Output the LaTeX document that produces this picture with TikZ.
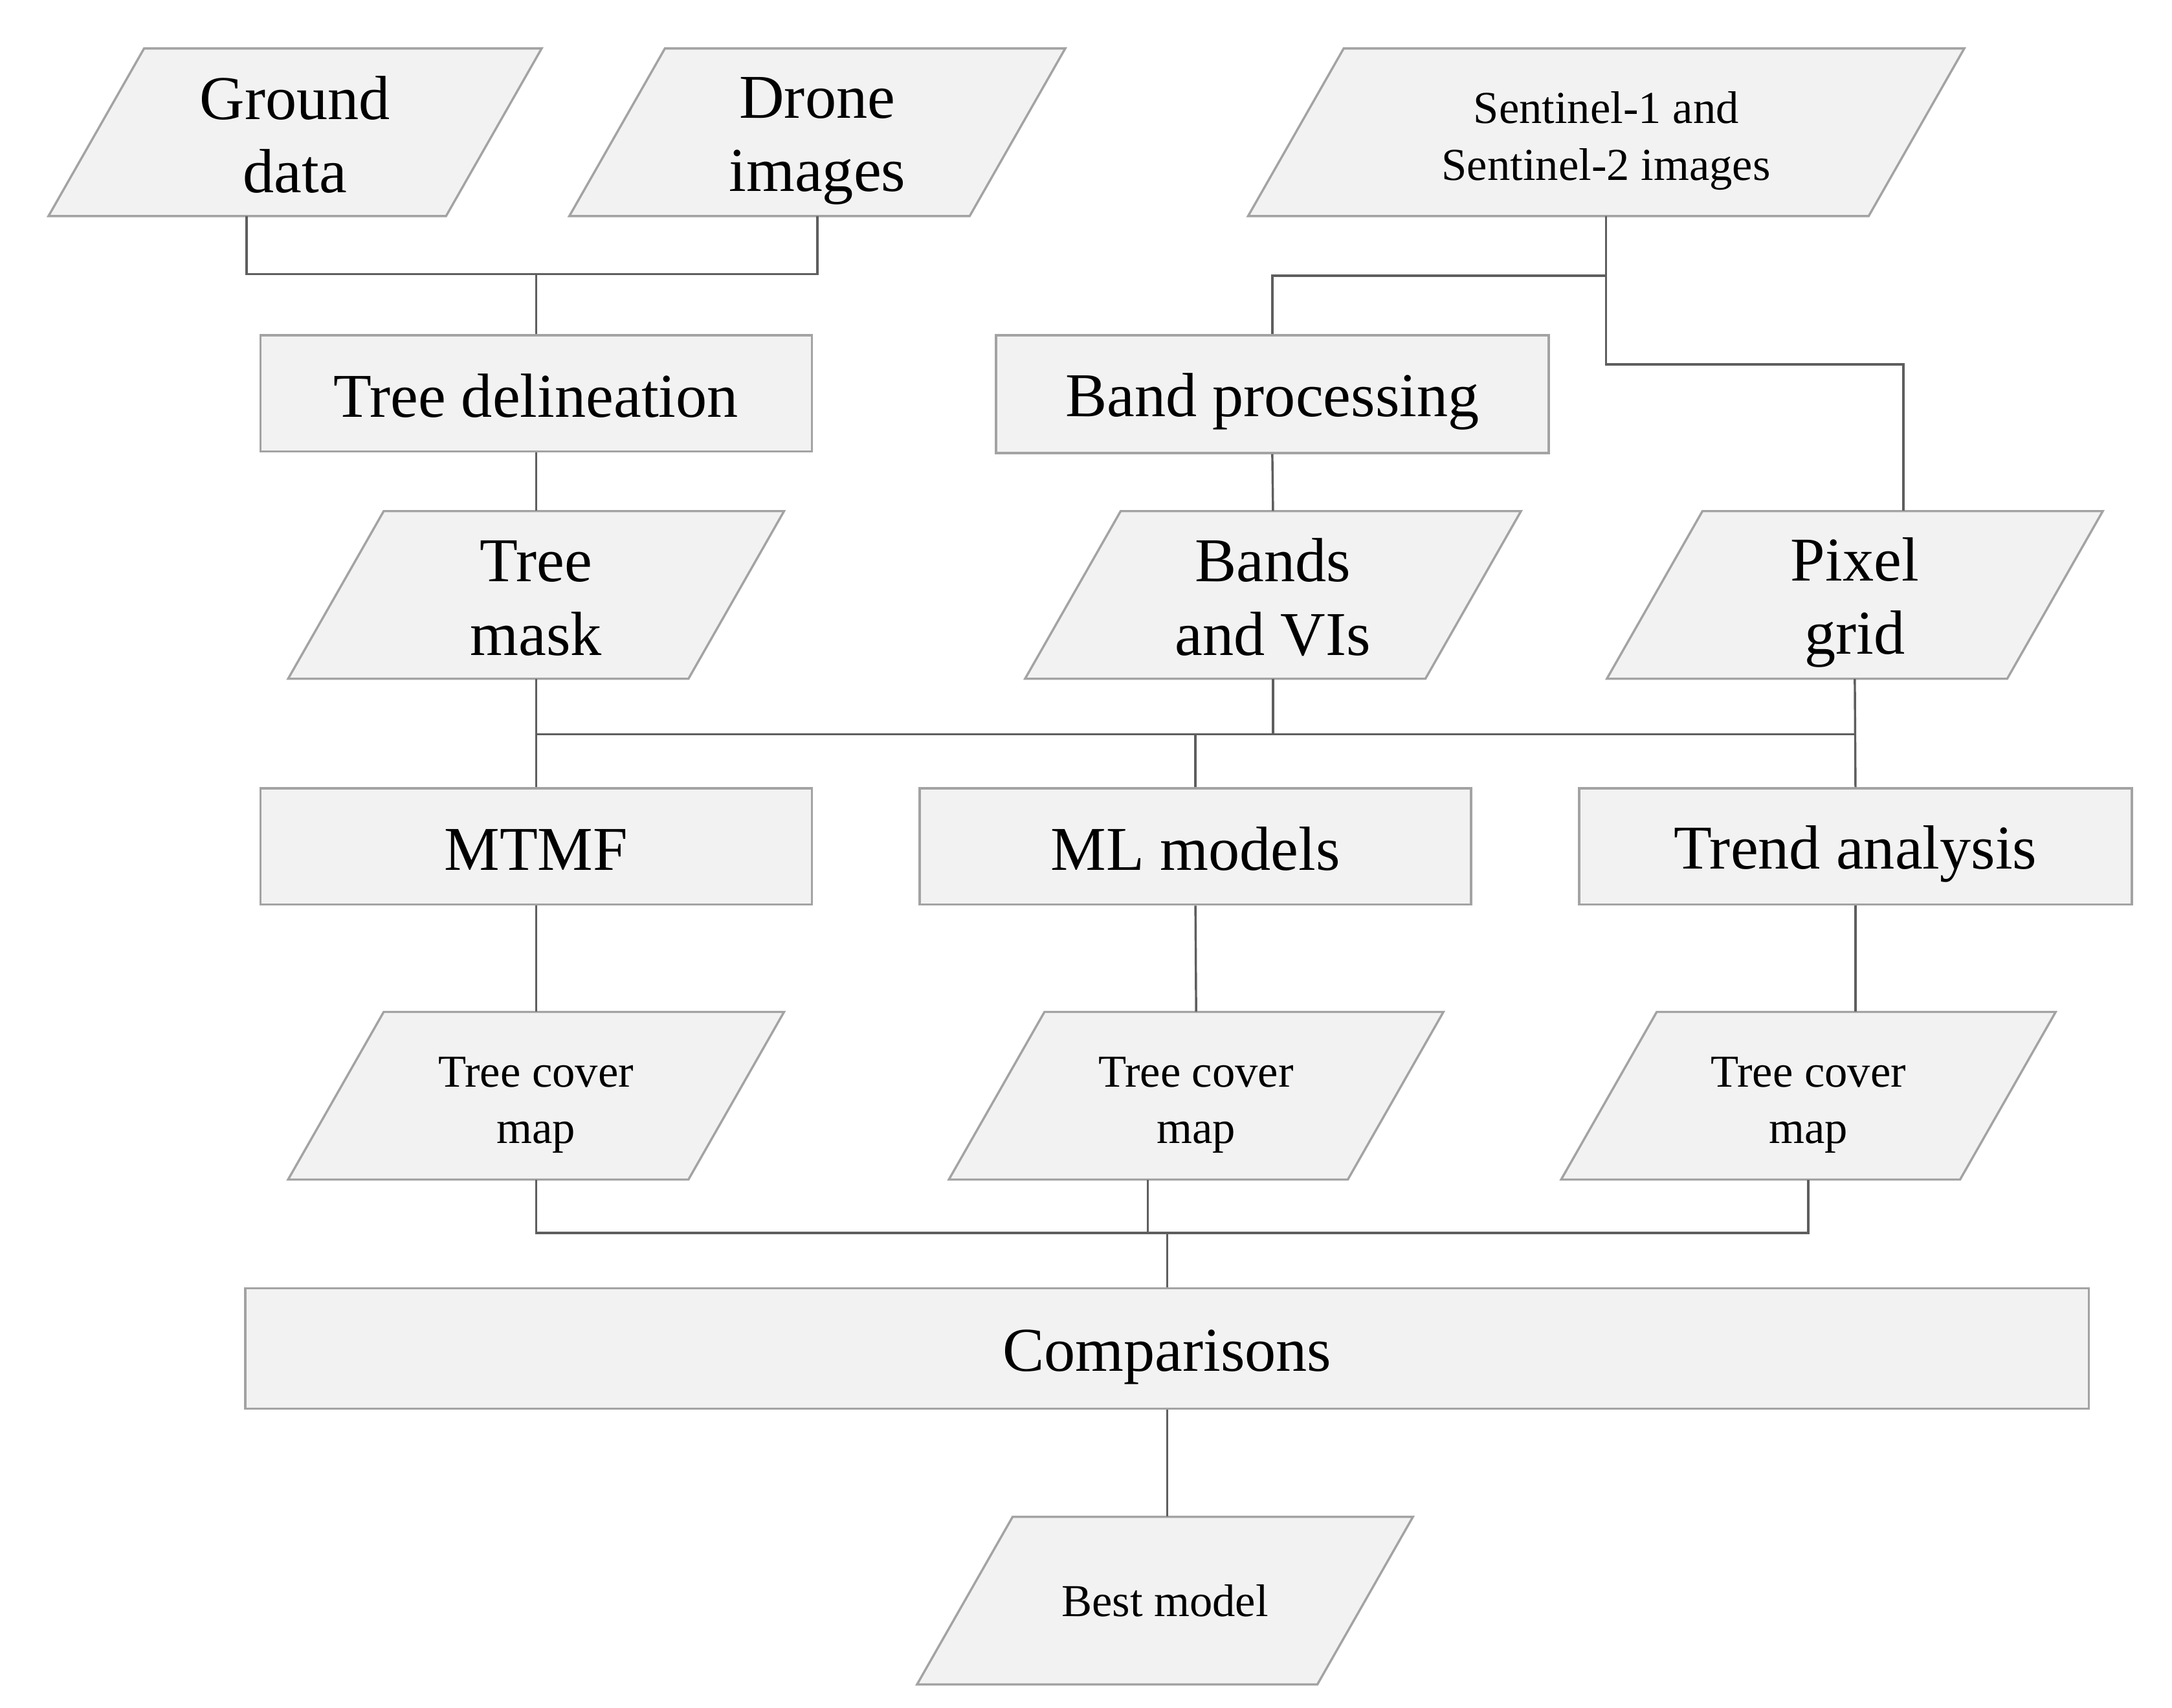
\documentclass[tikz,border=0pt]{standalone}
\usepackage{fontspec}
\setmainfont{Liberation Serif}
\definecolor{boxfill}{HTML}{F2F2F2}
\definecolor{boxline}{HTML}{A3A3A3}
\definecolor{connline}{HTML}{5E5E5E}
\newcommand{\bigtopstrut}{\rule{0pt}{42pt}}
\newcommand{\bigbotstrut}{\rule[-8pt]{0pt}{8pt}}
\newcommand{\smtopstrut}{\rule{0pt}{35pt}}
\newcommand{\smbotstrut}{\rule[-6pt]{0pt}{6pt}}
\tikzset{
  big/.style={font=\fontsize{45}{53}\selectfont},
  small/.style={font=\fontsize{33}{41}\selectfont},
  iofill/.style={fill=boxfill, draw=boxline, line width=1.6pt, line join=miter},
  iotext/.style={rectangle, draw=none, fill=none, inner sep=0pt, align=center},
  procbox/.style={rectangle, fill=boxfill, draw=boxline, line width=1.6pt, inner sep=0pt, align=center},
  conn/.style={draw=connline, line width=1.6pt}
}
% name, cx, cy, total width, font style, text
\newcommand{\iopara}[6]{%
  \path[iofill] ({#2-#4/2+69},{#3-60.5}) -- ({#2+#4/2},{#3-60.5}) -- ({#2+#4/2-69},{#3+60.5}) -- ({#2-#4/2},{#3+60.5}) -- cycle;
  \node[iotext,#5,minimum width=#4pt,minimum height=121pt] (#1) at (#2,#3) {#6};
}
\begin{document}
\begin{tikzpicture}[x=1pt,y=-1pt]
\useasboundingbox[fill=white] (0,0) rectangle (1568,1233);

% input parallelograms
\iopara{gd}{213}{95.5}{356}{big}{\bigtopstrut Ground\\data\bigbotstrut}
\iopara{dr}{590}{95.5}{358}{big}{\bigtopstrut Drone\\images\bigbotstrut}
\iopara{sen}{1159.5}{95.5}{517}{small}{\smtopstrut Sentinel-1 and\\Sentinel-2 images\smbotstrut}

% process boxes
\node[procbox,big,minimum width=398pt,minimum height=84pt] (td) at (387,284) {\bigtopstrut Tree delineation\bigbotstrut};
\node[procbox,big,minimum width=399pt,minimum height=85pt] (bp) at (918.5,284.5) {\bigtopstrut Band processing\bigbotstrut};

\iopara{tm}{387}{429.5}{358}{big}{\bigtopstrut Tree\\mask\bigbotstrut}
\iopara{bv}{919}{429.5}{358}{big}{\bigtopstrut Bands\\and VIs\bigbotstrut}
\iopara{px}{1339}{429.5}{358}{big}{\bigtopstrut Pixel\\grid\bigbotstrut}

\node[procbox,big,minimum width=398pt,minimum height=84pt] (mtmf) at (387,611) {\bigtopstrut MTMF\bigbotstrut};
\node[procbox,big,minimum width=398pt,minimum height=84pt] (ml) at (863,611) {\bigtopstrut ML models\bigbotstrut};
\node[procbox,big,minimum width=399pt,minimum height=84pt] (ta) at (1339.5,611) {\bigtopstrut Trend analysis\bigbotstrut};

\iopara{tc1}{387}{791}{358}{small}{\smtopstrut Tree cover\\map\smbotstrut}
\iopara{tc2}{863.5}{791}{357}{small}{\smtopstrut Tree cover\\map\smbotstrut}
\iopara{tc3}{1305.5}{791}{357}{small}{\smtopstrut Tree cover\\map\smbotstrut}

\node[procbox,big,minimum width=1331pt,minimum height=87pt] (comp) at (842.5,973.5) {\bigtopstrut Comparisons\bigbotstrut};

\iopara{best}{841}{1155.5}{358}{small}{Best model}

% junction coordinates
\coordinate (jtop) at (387,198);
\coordinate (jsenA) at (1159.5,199);
\coordinate (jsenB) at (1159.5,263);
\coordinate (bus1) at (387,530);
\coordinate (bus2) at (843,890);

% connectors
\draw[conn] ([xshift=-35pt]gd.south) |- (dr.south |- jtop) -- (dr.south);
\draw[conn] (td.north |- jtop) -- (td.north);
\draw[conn] (td.south) -- (tm.north);

\draw[conn] (sen.south) -- (jsenB) -| ([xshift=35pt]px.north);
\draw[conn] (jsenA) -| (bp.north);
\draw[conn] (bp.south) -- (bv.north);

\draw[conn] (tm.south) -- (mtmf.north);
\draw[conn] (bus1) -- (px.south |- bus1);
\draw[conn] (bv.south) -- (bv.south |- bus1);
\draw[conn] (px.south) -- (ta.north);
\draw[conn] (ml.north |- bus1) -- (ml.north);

\draw[conn] (mtmf.south) -- (tc1.north);
\draw[conn] (ml.south) -- (tc2.north);
\draw[conn] (ta.south) -- (ta.south |- tc3.north);

\draw[conn] (tc1.south) |- (tc3.south |- bus2) -- (tc3.south);
\draw[conn] ([xshift=-35pt]tc2.south) -- ([xshift=-35pt]tc2.south |- bus2);
\draw[conn] (comp.north |- bus2) -- (comp.north);
\draw[conn] (comp.south) -- (comp.south |- best.north);
\end{tikzpicture}
\end{document}
